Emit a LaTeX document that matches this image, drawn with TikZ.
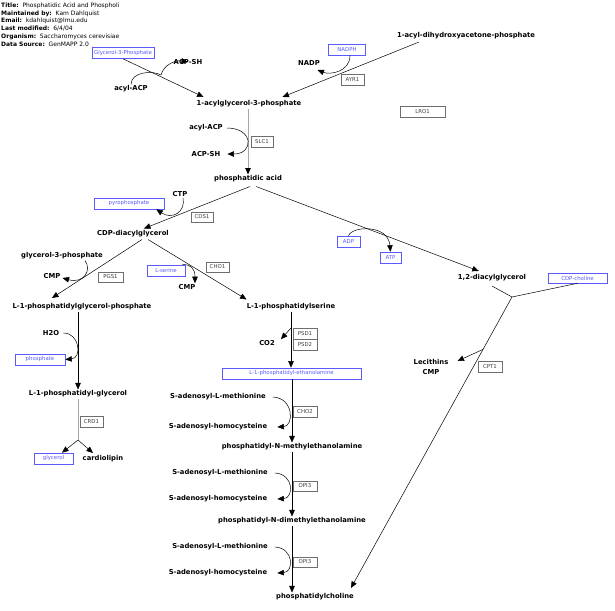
\documentclass[tikz,border=0pt]{standalone}
\usepackage{fontspec}
\setmainfont{DejaVu Sans}
\usepackage{tikz}
\usetikzlibrary{arrows.meta}
\usepackage{xcolor}
\definecolor{mapblue}{RGB}{90, 90, 255}
\definecolor{genegray}{RGB}{110, 110, 110}
\tikzset{
  metab/.style={font=\fontsize{6.8}{8}\selectfont\bfseries, inner sep=1pt},
  genebox/.style={draw=genegray, text=black!75, font=\fontsize{5.4}{6}\selectfont, minimum height=11pt, minimum width=23pt, inner sep=0pt, line width=0.6pt},
  bluebox/.style={draw=mapblue, text=mapblue, font=\fontsize{5.4}{6}\selectfont, minimum height=11pt, inner sep=0pt, line width=0.6pt},
  rxn/.style={line width=0.5pt, -{Triangle[length=6.5pt,width=5.5pt]}},
  grayrxn/.style={draw=gray!70, line width=1pt, -{Triangle[length=6.5pt,width=5.5pt,color=black]}},
}

\begin{document}
\begin{tikzpicture}[x=1pt, y=-1pt]
        \useasboundingbox (0,0) rectangle (615,610);
        % 見出し（左上）
        \node[anchor=north west, align=left, inner sep=0pt, font=\fontsize{6}{7.8}\selectfont] (hdr) at (1,2.5) {\textbf{Title:}\ \ Phosphatidic Acid and Phospholi\\ \textbf{Maintained by:}\ \ Kam Dahlquist\\ \textbf{Email:}\ \ kdahlquist@lmu.edu\\ \textbf{Last modified:}\ \ 6/4/04\\ \textbf{Organism:}\ \ Saccharomyces cerevisiae\\ \textbf{Data Source:}\ \ GenMAPP 2.0};
        % 代謝物（太字ラベル）
        \node[metab] (acpA) at (188,62) {ACP-SH};
        \node[metab] (acylA) at (131,89) {acyl-ACP};
        \node[metab] (nadp) at (309,63) {NADP};
        \node[metab] (dhap) at (466,36) {1-acyl-dihydroxyacetone-phosphate};
        \node[metab] (lpa) at (249,104) {1-acylglycerol-3-phosphate};
        \node[metab] (acylB) at (206,128) {acyl-ACP};
        \node[metab] (acpB) at (206,154) {ACP-SH};
        \node[metab] (pa) at (248,179) {phosphatidic acid};
        \node[metab] (ctp) at (180,194) {CTP};
        \node[metab] (cdpdag) at (133,234) {CDP-diacylglycerol};
        \node[metab] (dag) at (492,278) {1,2-diacylglycerol};
        \node[metab] (g3pB) at (62,256) {glycerol-3-phosphate};
        \node[metab] (cmpA) at (52,276) {CMP};
        \node[metab] (cmpB) at (187,287) {CMP};
        \node[metab] (pgp) at (82,307) {L-1-phosphatidylglycerol-phosphate};
        \node[metab] (ps) at (291,307) {L-1-phosphatidylserine};
        \node[metab] (h2o) at (51,333) {H2O};
        \node[metab] (co2) at (267,343) {CO2};
        \node[metab] (lecA) at (431,362) {Lecithins};
        \node[metab] (cmpC) at (431,372) {CMP};
        \node[metab] (pg) at (78,394) {L-1-phosphatidyl-glycerol};
        \node[metab] (cl) at (103,459) {cardiolipin};
        \node[metab] (samA) at (218,397) {S-adenosyl-L-methionine};
        \node[metab] (sahA) at (218,427) {S-adenosyl-homocysteine};
        \node[metab] (pme) at (292,447) {phosphatidyl-N-methylethanolamine};
        \node[metab] (samB) at (220,473) {S-adenosyl-L-methionine};
        \node[metab] (sahB) at (218,499) {S-adenosyl-homocysteine};
        \node[metab] (pdme) at (292,521) {phosphatidyl-N-dimethylethanolamine};
        \node[metab] (samC) at (220,547) {S-adenosyl-L-methionine};
        \node[metab] (sahC) at (218,573) {S-adenosyl-homocysteine};
        \node[metab] (pc) at (315,597) {phosphatidylcholine};
        % 青枠の代謝物
        \node[bluebox, minimum width=62pt] (g3pA) at (123,53) {Glycerol-3-Phosphate};
        \node[bluebox, minimum width=37pt] (nadph) at (347,49.5) {NADPH};
        \node[bluebox, minimum width=70pt] (ppi) at (129,203.5) {pyrophosphate};
        \node[bluebox, minimum width=23pt] (adp) at (348.5,241.5) {ADP};
        \node[bluebox, minimum width=21pt] (atp) at (390.5,257.5) {ATP};
        \node[bluebox, minimum width=59pt, minimum height=10pt] (cdpcho) at (577.5,278) {CDP-choline};
        \node[bluebox, minimum width=38pt] (lser) at (166,270.5) {L-serine};
        \node[bluebox, minimum width=50pt] (phos) at (40,359.5) {phosphate};
        \node[bluebox, minimum width=39pt] (gly) at (53.5,458.5) {glycerol};
        \node[bluebox, minimum width=139pt] (pe) at (291.5,373.5) {L-1-phosphatidyl-ethanolamine};
        % 遺伝子（灰色の枠）
        \node[genebox] (ayr1) at (352.5,79.5) {AYR1};
        \node[genebox, minimum width=45pt] (lro1) at (422.5,111.5) {LRO1};
        \node[genebox, minimum width=22pt] (slc1) at (262,141.5) {SLC1};
        \node[genebox, minimum width=22pt, minimum height=10pt] (cds1) at (202,217) {CDS1};
        \node[genebox, minimum width=25pt, minimum height=10pt] (pgs1) at (110.5,277) {PGS1};
        \node[genebox, minimum height=10pt] (cho1) at (217.5,267) {CHO1};
        \node[genebox, minimum width=24pt] (cpt1) at (490,366.5) {CPT1};
        \node[genebox] (crd1) at (91.5,421.5) {CRD1};
        \node[genebox, minimum width=24pt] (psd1) at (305,333.5) {PSD1};
        \node[genebox, minimum width=24pt] (psd2) at (305,344.5) {PSD2};
        \node[genebox, minimum width=24pt] (cho2) at (305,411.5) {CHO2};
        \node[genebox, minimum width=24pt, minimum height=10pt] (opi3A) at (305,486) {OPI3};
        \node[genebox, minimum width=24pt, minimum height=10pt] (opi3B) at (305,562) {OPI3};
        % 分岐点
        \coordinate (cljn) at (78,440);
        \coordinate (jn) at (512,297);
        % 主反応
        \draw[rxn] (g3pA.south) -- ([shift={(8,-2.5)}]lpa.north west);
        \draw[rxn] ([shift={(-47,1.5)}]dhap.south) -- ([shift={(-20,-2.5)}]lpa.north east);
        \draw[grayrxn] (lpa.south -| pa) -- (pa.north);
        \draw[rxn] ([shift={(2,3)}]pa.south) -- ([shift={(11,-1)}]cdpdag.north);
        \draw[rxn] ([shift={(8,3)}]pa.south) -- ([shift={(22,-2.5)}]dag.north west);
        \draw[rxn] ([shift={(9,1)}]cdpdag.south) -- ([shift={(-30,-4.5)}]pgp.north);
        \draw[rxn] ([shift={(15,1)}]cdpdag.south) -- ([shift={(1,-3)}]ps.north west);
        \draw[rxn] (pgp.south -| pg) -- (pg.north);
        \draw[gray!70, line width=0.6pt] (pg.south) -- (cljn);
        \draw[rxn] (cljn) -- ([xshift=8.5]gly.north);
        \draw[rxn] (cljn) -- ([shift={(-10,-1.5)}]cl.north);
        \draw[rxn] (ps.south) -- (ps.south |- pe.north);
        \draw[rxn] (pe.south -| pme) -- (pme.north);
        \draw[rxn] (pme.south) -- (pdme.north);
        \draw[rxn] (pdme.south) -- (pdme.south |- pc.north);
        \draw[line width=0.5pt] ([yshift=-3.5]dag.south) -- (jn);
        \draw[line width=0.5pt] (cdpcho.south) -- (jn);
        \draw[rxn] (jn) -- ([shift={(-4,-4.5)}]pc.north east);
        % 副反応
        \path (ps.south) -- (pe.north) coordinate[pos=0.29] (co2pt);
        \draw[rxn] (co2pt) -- ([xshift=5]co2.north east);
        \path (jn) -- ([shift={(-4,-4.5)}]pc.north east) coordinate[pos=0.18] (cptpt);
        \draw[rxn] (cptpt) -- ([shift={(8,-1)}]lecA.east);
        \draw[rxn] (acylA.north) .. controls (131,72) and (152,70) .. (161,75) .. controls (164,64) and (176,60) .. (acpA.center);
        \draw[rxn] ([xshift=3]nadph.south) .. controls (350,72) and (330,75) .. ([shift={(-3.5,7)}]nadp.east);
        \draw[rxn] ([xshift=3]acylB.east) .. controls (254,128) and (254,154) .. ([xshift=6]acpB.east);
        \draw[rxn] ([xshift=3]ctp.south) .. controls (186,212) and (172,220) .. ([xshift=-8]ppi.south east);
        \draw[rxn] (adp.north) .. controls (352,226) and (388,224) .. (atp.north);
        \draw[rxn] ([xshift=23]g3pB.south) .. controls (92,270) and (84,284) .. ([shift={(1,2)}]cmpA.east);
        \draw[rxn] ([xshift=-3]lser.north east) .. controls (190,264) and (195,268) .. ([xshift=8]cmpB.north);
        \draw[rxn] ([xshift=3]h2o.east) .. controls (80,333) and (82,358) .. (phos.east);
        \draw[rxn] ([xshift=6]samA.east) .. controls (294,398) and (294,426) .. ([xshift=9]sahA.east);
        \draw[rxn] ([xshift=6]samB.east) .. controls (294,474) and (294,498) .. ([xshift=9]sahB.east);
        \draw[rxn] ([xshift=6]samC.east) .. controls (294,548) and (294,572) .. ([xshift=9]sahC.east);
    \end{tikzpicture}
\end{document}
